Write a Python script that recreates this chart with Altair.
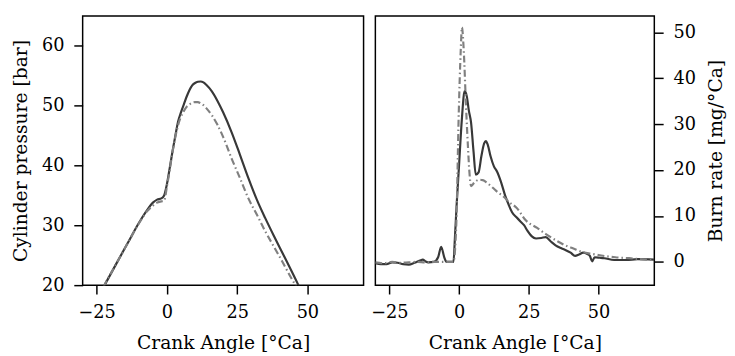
import altair as alt
import pandas as pd

# ---- Left panel: cylinder pressure ----
angle_p_meas = [-25, -22.2, -18, -14, -10, -7, -5, -3.5, -2, -1, 0, 1, 2, 3, 4, 5, 6, 7, 8, 9, 10,
                11, 12, 13, 14, 16, 18, 20, 23, 26, 29, 32, 35, 38, 41, 44, 46.5, 48]
p_meas = [17.7, 20.0, 23.6, 27.0, 30.4, 32.6, 33.8, 34.3, 34.5, 35.0, 36.9, 39.6, 42.4, 45.0, 47.4,
          48.9, 50.2, 51.5, 52.6, 53.4, 53.8, 54.0, 54.05, 53.9, 53.5, 52.4, 50.8, 48.9, 45.6, 41.8,
          37.9, 34.3, 31.2, 28.3, 25.5, 22.7, 20.3, 18.8]

angle_p_model = [-25, -22.3, -18, -14, -10, -7, -5, -3.5, -2, -1, 0, 1, 2, 3, 4, 5, 6, 7, 8, 9, 10,
                 11, 12, 13, 14, 16, 18, 20, 23, 26, 29, 32, 35, 38, 41, 44, 46, 48]
p_model = [17.6, 20.0, 23.6, 27.0, 30.3, 32.4, 33.3, 33.8, 34.0, 34.1, 36.5, 39.3, 42.3, 44.8, 46.8,
           48.2, 49.1, 49.8, 50.2, 50.5, 50.6, 50.6, 50.4, 50.1, 49.6, 48.4, 46.8, 44.8, 41.2, 37.9,
           34.5, 31.8, 29.0, 26.5, 24.0, 21.4, 19.8, 18.2]

# ---- Right panel: burn rate ----
angle_b_meas = [-30, -28, -26, -24, -22, -20, -18, -16, -14, -13, -12, -11, -9, -7.5, -6.4, -5.3,
                -4.5, -3, -2, -1.5, -0.9, 0, 1, 2.0, 2.8, 3.5, 4.3, 5.2, 6.0, 7.0, 8.0, 9.0, 9.6,
                10.3, 11.3, 12.5, 13.6, 15, 16.5, 17.7, 19, 20.6, 22, 23.3, 24.5, 26, 27.6, 29.5,
                31.1, 32.8, 34.6, 36.5, 38.1, 40, 41.6, 43, 44.5, 46, 46.9, 47.7, 48.6, 50.5, 52.1,
                55.6, 60, 64, 70]
b_meas = [-0.3, -0.5, -0.5, -0.1, -0.2, -0.5, -0.6, -0.2, 0.3, 0.5, 0.1, -0.1, 0.0, 1.0, 3.3, 1.0,
          0.0, 0.0, 0.0, 5.0, 12.0, 21.0, 31.0, 37.2, 36.0, 33.0, 30.4, 24.0, 19.0, 19.5, 23.0, 25.8,
          26.3, 25.5, 23.0, 20.8, 19.7, 17.5, 14.5, 12.6, 10.8, 9.7, 8.8, 8.0, 6.8, 5.6, 5.1, 5.2,
          5.4, 4.5, 3.6, 3.0, 2.6, 2.0, 1.3, 1.6, 2.0, 1.7, 1.3, 0.1, 1.0, 0.9, 0.8, 0.4, 0.4, 0.6,
          0.5]

angle_b_model = [-30, -27, -24, -21, -18, -15, -12, -9, -6, -3, -2, -1, -0.1, 0.6, 1.05, 1.6, 2.6,
                 3.2, 3.7, 4.3, 5.5, 7.2, 8.5, 10.1, 12, 14, 16, 18, 20.6, 24, 28, 31, 35, 38, 41,
                 44, 47, 50, 53, 56, 61, 65, 70]
b_model = [-0.1, -0.3, 0.0, -0.2, -0.1, 0.0, -0.1, 0.0, 0.0, 0.0, 0.0, 8.0, 32.5, 46.0, 51.1, 47.0,
           32.5, 25.0, 19.7, 16.5, 17.3, 17.9, 17.8, 17.2, 16.2, 15.1, 14.2, 13.0, 11.8, 9.0, 7.4,
           6.1, 4.6, 3.6, 2.9, 2.2, 1.8, 1.5, 1.2, 1.0, 0.8, 0.6, 0.4]

x_ticks = [-25, 0, 25, 50]
p_ticks = [20, 30, 40, 50, 60]
b_ticks = [0, 10, 20, 30, 40, 50]

FONT = "DejaVu Serif"
SOLID = "#383838"
DASHED = "#808080"
DASH = [7, 3, 1.5, 3]

x_dom = [-30, 70]
x_title = "Crank Angle [°Ca]"

df_pm = pd.DataFrame({"angle": angle_p_meas, "value": p_meas})
df_pd = pd.DataFrame({"angle": angle_p_model, "value": p_model})
df_bm = pd.DataFrame({"angle": angle_b_meas, "value": b_meas})
df_bd = pd.DataFrame({"angle": angle_b_model, "value": b_model})

x_enc = alt.X("angle:Q", scale=alt.Scale(domain=x_dom, nice=False, zero=False),
              axis=alt.Axis(values=x_ticks, title=x_title))

p_y = alt.Y("value:Q", scale=alt.Scale(domain=[20, 65], nice=False, zero=False),
            axis=alt.Axis(values=p_ticks, title="Cylinder pressure [bar]",
                          labelPadding=10, titlePadding=11))

b_y = alt.Y("value:Q", scale=alt.Scale(domain=[-5.07, 53.56], nice=False, zero=False),
            axis=alt.Axis(values=b_ticks, title="Burn rate [mg/°Ca]", orient="right",
                          titleAngle=270, titleBaseline="top", labelPadding=10, titlePadding=12))

left = alt.layer(
    alt.Chart(df_pm).mark_line(color=SOLID, strokeWidth=2.2, clip=True, interpolate="monotone").encode(x=x_enc, y=p_y),
    alt.Chart(df_pd).mark_line(color=DASHED, strokeWidth=2.2, strokeDash=DASH, clip=True, interpolate="monotone").encode(x=x_enc, y=p_y),
).properties(width=286, height=274)

right = alt.layer(
    alt.Chart(df_bm).mark_line(color=SOLID, strokeWidth=2.2, clip=True, interpolate="monotone").encode(x=x_enc, y=b_y),
    alt.Chart(df_bd).mark_line(color=DASHED, strokeWidth=2.2, strokeDash=DASH, clip=True, interpolate="monotone").encode(x=x_enc, y=b_y),
).properties(width=284, height=274)

chart = alt.hconcat(left, right, spacing=5).properties(
    padding={"left": 3, "top": 4, "right": 0, "bottom": 0}
).configure_view(
    stroke="black", strokeWidth=1.5
).configure_axis(
    domain=False, grid=False,
    tickColor="black", tickSize=9, tickWidth=1.5,
    labelFont=FONT, labelFontSize=18, labelColor="black",
    titleFont=FONT, titleFontSize=19, titleColor="black", titleFontWeight="normal",
).configure_axisX(labelPadding=10, titlePadding=13)

chart.save("out.html", embed_options={"renderer": "svg", "actions": False})
